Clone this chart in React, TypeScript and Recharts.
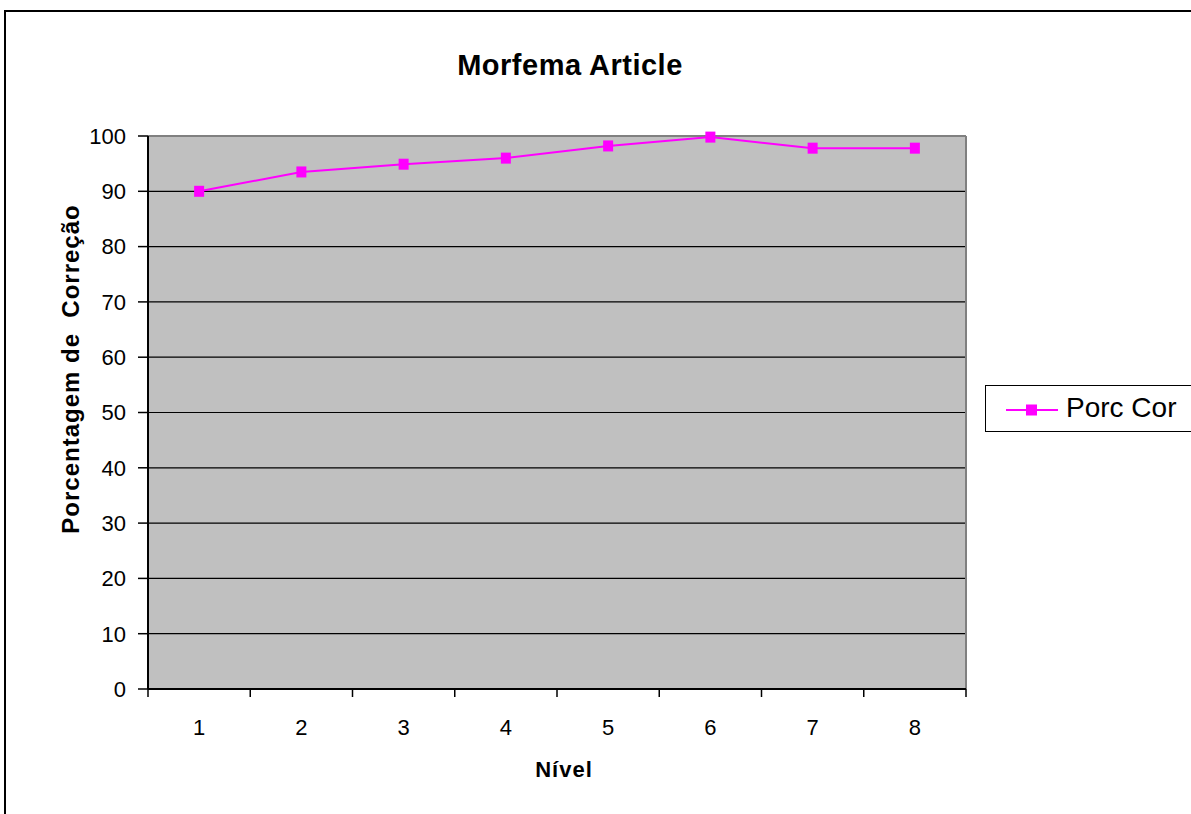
import {
  LineChart,
  Line,
  XAxis,
  YAxis,
  CartesianGrid,
  ReferenceLine,
} from "recharts";

const levels = [1, 2, 3, 4, 5, 6, 7, 8];
const porcCor = [90, 93.5, 94.9, 96, 98.2, 99.8, 97.8, 97.8];
const yTicks = [0, 10, 20, 30, 40, 50, 60, 70, 80, 90, 100];
// category labels sit at whole numbers, tick marks between them
const xTicks = [0.5, 1, 1.5, 2, 2.5, 3, 3.5, 4, 4.5, 5, 5.5, 6, 6.5, 7, 7.5, 8, 8.5];

const data = levels.map((n, i) => ({ nivel: n, porc: porcCor[i] }));

const FONT = "'Liberation Sans', Arial, sans-serif";
const MAGENTA = "#ff00ff";
const PLOT_BG = "#c0c0c0";

function XTick(props: any) {
  const { x, y, payload } = props;
  const v = payload.value as number;
  if (Number.isInteger(v)) {
    return (
      <text x={x} y={y + 46} textAnchor="middle" fontSize={22} fontFamily={FONT} fill="#000">
        {v}
      </text>
    );
  }
  return <line x1={x} y1={y} x2={x} y2={y + 8} stroke="#000" strokeWidth={1.5} />;
}

function SquareDot(props: any) {
  const { cx, cy } = props;
  if (cx == null || cy == null) return null;
  return <rect x={cx - 5} y={cy - 5.5} width={10} height={11} fill={MAGENTA} />;
}

function YTitle(props: any) {
  const vb = props.viewBox;
  const x = vb.x + 79;
  const y = vb.y + 233;
  return (
    <text
      x={x}
      y={y}
      transform={`rotate(-90 ${x} ${y})`}
      textAnchor="middle"
      fontFamily={FONT}
      fontWeight="bold"
      fontSize={24}
      letterSpacing={1}
      fill="#000"
      style={{ whiteSpace: "pre" }}
    >
      Porcentagem de  Correção
    </text>
  );
}

// series key, drawn beside the plot
function LegendBox() {
  return (
    <div
      style={{
        position: "absolute",
        left: 985,
        top: 385,
        width: 215,
        height: 47,
        border: "1px solid #000",
        background: "#fff",
        boxSizing: "border-box",
      }}
    >
      <svg width={60} height={45} style={{ position: "absolute", left: 18, top: 0 }}>
        <line x1={2} y1={24} x2={54} y2={24} stroke={MAGENTA} strokeWidth={2} />
        <rect x={22} y={18.5} width={11} height={11} fill={MAGENTA} />
      </svg>
      <span
        style={{
          position: "absolute",
          left: 80,
          top: 6,
          fontFamily: FONT,
          fontSize: 28,
          lineHeight: "32px",
          color: "#000",
          whiteSpace: "nowrap",
        }}
      >
        Porc Cor
      </span>
    </div>
  );
}

export default function App() {
  return (
    <div
      style={{
        position: "fixed",
        left: 0,
        top: 0,
        width: 1191,
        height: 814,
        background: "#fff",
        overflow: "hidden",
      }}
    >
      <div
        style={{
          position: "absolute",
          left: 4,
          top: 10,
          width: 1200,
          height: 820,
          borderLeft: "2px solid #000",
          borderTop: "2px solid #000",
        }}
      />
      <div
        style={{
          position: "absolute",
          top: 49,
          left: 0,
          width: 1140,
          textAlign: "center",
          fontFamily: FONT,
          fontWeight: "bold",
          fontSize: 29,
          letterSpacing: 0.5,
          lineHeight: "33px",
        }}
      >
        Morfema Article
      </div>
      <LineChart
        width={1191}
        height={814}
        data={data}
        margin={{ top: 136, left: 0, right: 225, bottom: 0 }}
        style={{ position: "absolute", left: 0, top: 0 }}
      >
        <CartesianGrid
          fill={PLOT_BG}
          vertical={false}
          stroke="#000"
          strokeWidth={1.2}
          strokeOpacity={1}
        />
        <XAxis
          dataKey="nivel"
          type="number"
          domain={[0.5, 8.5]}
          ticks={xTicks}
          interval={0}
          tick={<XTick />}
          tickLine={false}
          tickSize={0}
          tickMargin={0}
          axisLine={{ stroke: "#000", strokeWidth: 2 }}
          height={125}
          label={{
            value: "Nível",
            position: "insideTop",
            offset: 72,
            dx: 7,
            style: {
              fontFamily: FONT,
              fontWeight: "bold",
              fontSize: 22,
              letterSpacing: 1,
              fill: "#000",
            },
          }}
        />
        <YAxis
          type="number"
          domain={[0, 100]}
          ticks={yTicks}
          interval={0}
          width={148}
          tickSize={10}
          tickMargin={12}
          tickLine={{ stroke: "#000", strokeWidth: 1.5 }}
          axisLine={{ stroke: "#000", strokeWidth: 2 }}
          tick={{ fontFamily: FONT, fontSize: 22, fill: "#000" }}
          label={<YTitle />}
        />
        <ReferenceLine y={100} stroke="#808080" strokeWidth={2} />
        <ReferenceLine x={8.5} stroke="#808080" strokeWidth={2} />
        <Line
          type="linear"
          dataKey="porc"
          name="Porc Cor"
          stroke={MAGENTA}
          strokeWidth={2}
          dot={<SquareDot />}
          activeDot={false}
          isAnimationActive={false}
        />
      </LineChart>
      <LegendBox />
    </div>
  );
}
